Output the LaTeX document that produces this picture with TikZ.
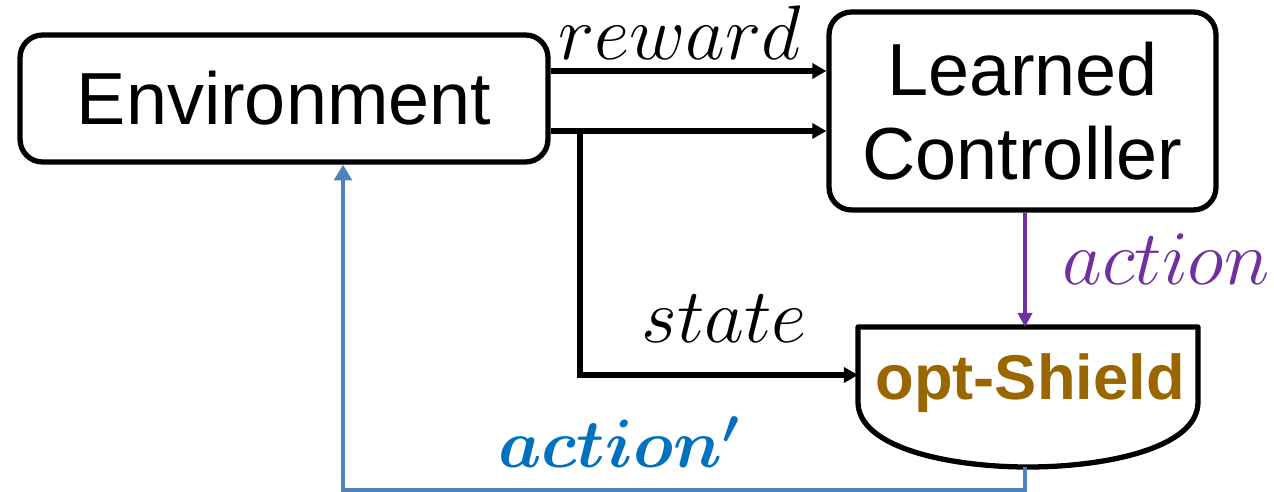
\documentclass[tikz,border=0pt]{standalone}
\usepackage{fix-cm}
\usepackage{bm}
\usepackage{fontspec}
\setmainfont{Liberation Sans}
\usetikzlibrary{arrows.meta}
\definecolor{shieldbrown}{HTML}{996600}
\definecolor{actpurple}{HTML}{7030A0}
\definecolor{actblue}{HTML}{0070C0}
\definecolor{loopblue}{HTML}{4F81BD}
\tikzset{
  box/.style={draw=black, line width=3pt, rounded corners=0.45cm, fill=white, align=center},
  boxtext/.style={font=\fontsize{42}{48}\selectfont},
  flow/.style={line width=2.9pt, -{Triangle[length=8pt,width=8.5pt]}},
  mathlabel/.style={anchor=base, font=\fontsize{44}{48}\selectfont},
}
\begin{document}
\begin{tikzpicture}[x=0.02cm, y=-0.02cm]
  \useasboundingbox (0,0) rectangle (1274,492);

  % main blocks
  \node[box, boxtext, minimum width=10.56cm, minimum height=2.54cm] (env) at (284,98.5) {Environment};
  \node[box, boxtext, minimum width=7.74cm, minimum height=3.96cm] (ctrl) at (1022.5,111) {Learned\\Controller};

  % shield outline: flat top, straight sides, rounded bottom
  \draw[line width=3pt, line join=round, fill=white]
    (858,327) -- (858,402) .. controls (858,448) and (950,467) .. (1028,467)
    .. controls (1106,467) and (1198,448) .. (1198,402) -- (1198,327) -- cycle;
  \node[anchor=base, text=shieldbrown, font=\fontsize{36}{40}\selectfont\bfseries] (shield) at (1030,400) {opt-Shield};
  \coordinate (shieldW) at (858,375);
  \coordinate (shieldN) at (1025,327);
  \coordinate (shieldS) at (1025,467);

  % rows of the two environment outputs
  \coordinate (rowR) at (0,71);
  \coordinate (rowS) at (0,131);

  % reward and state outputs of the environment
  \draw[flow] (env.east |- rowR) -- (ctrl.west |- rowR);
  \draw[flow] (env.east |- rowS) -- (ctrl.west |- rowS);
  \coordinate (split) at (580,131);
  \draw[flow] (split) |- (shieldW);

  % proposed action from the controller
  \draw[line width=2pt, actpurple, -{Triangle[length=8pt,width=8pt]}] (shieldN |- ctrl.south) -- (shieldN);

  % corrected action fed back to the environment
  \coordinate (back) at (343,490);
  \draw[line width=2.3pt, loopblue, -{Triangle[length=9pt,width=10pt]}]
    (shieldS) |- (back) -- (back |- env.south);

  % labels
  \node[mathlabel] (lreward) at (680,60) {$reward$};
  \node[mathlabel] (lstate) at (724,343) {$state$};
  \node[mathlabel, text=actpurple] (laction) at (1166,285) {$action$};
  \node[mathlabel, text=actblue, font=\fontsize{39}{44}\selectfont] (lactionp) at (619,468) {$\bm{action^{\prime}}$};
\end{tikzpicture}
\end{document}
